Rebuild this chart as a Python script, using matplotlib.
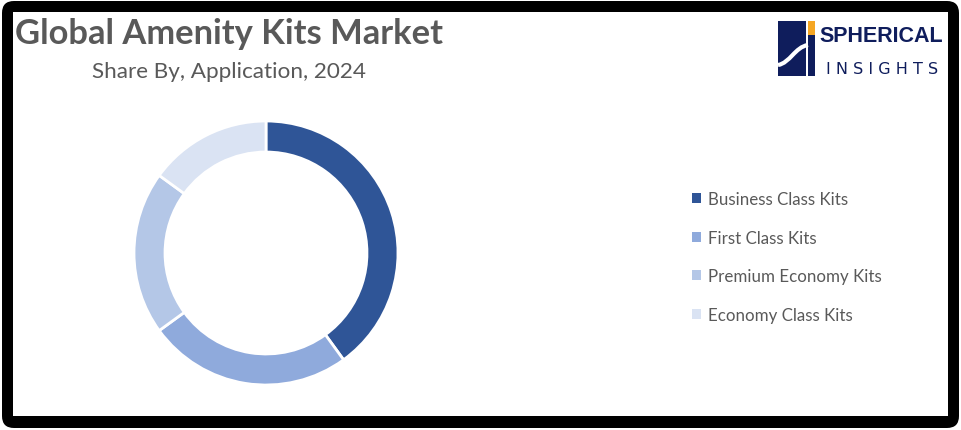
"""Global Amenity Kits Market donut chart, share by application."""

import matplotlib

matplotlib.use("Agg")

import matplotlib.pyplot as plt
from matplotlib.patches import FancyBboxPatch, Rectangle, PathPatch
from matplotlib.path import Path

W, H = 961, 431

categories = [
    "Business Class Kits",
    "First Class Kits",
    "Premium Economy Kits",
    "Economy Class Kits",
]
shares = [40, 25, 20, 15]
colors = ["#2F5597", "#8FAADC", "#B4C7E7", "#DAE3F3"]

TEXT_GREY = "#595959"
NAVY = "#0F1D5C"
ORANGE = "#F5A623"

fig = plt.figure(figsize=(W / 100, H / 100), dpi=100)

# background axes in pixel coordinates (y down)
bg = fig.add_axes([0, 0, 1, 1])
bg.set_xlim(0, W)
bg.set_ylim(H, 0)
bg.axis("off")

bg.add_patch(FancyBboxPatch((2, 2), W - 4, H - 4,
                            boxstyle="round,pad=0,rounding_size=12",
                            facecolor="black", edgecolor="none"))
bg.add_patch(Rectangle((13, 13), 935, 404, facecolor="white", edgecolor="none"))

# titles
bg.text(15, 34, "Global Amenity Kits Market", fontsize=24.8, fontweight="bold",
        color=TEXT_GREY, family="Lato", va="center", ha="left")
bg.text(229, 72, "Share By, Application, 2024", fontsize=16.2,
        color=TEXT_GREY, family="Lato", va="center", ha="center")

# logo
bg.add_patch(Rectangle((778, 22), 28, 55, facecolor=NAVY, edgecolor="none"))
bg.add_patch(Rectangle((808, 22), 7, 14, facecolor=ORANGE, edgecolor="none"))
bg.add_patch(Rectangle((808, 36), 7, 41, facecolor=NAVY, edgecolor="none"))
curve = Path([(778, 66), (790, 64), (795, 48), (808, 46)],
             [Path.MOVETO, Path.CURVE4, Path.CURVE4, Path.CURVE4])
bg.add_patch(PathPatch(curve, facecolor="none", edgecolor="white", lw=3))
bg.text(881, 37, "SPHERICAL", fontsize=15.5, fontweight="bold", color=NAVY,
        family="Liberation Sans", va="center", ha="center")
bg.text(882, 69, "I N S I G H T S", fontsize=11.5, color=NAVY,
        family="DejaVu Sans", va="center", ha="center")

# donut
cx, cy, r = 266, 254, 132
half = 140
ax = fig.add_axes([(cx - half) / W, (H - cy - half) / H, 2 * half / W, 2 * half / H])
wedges, _ = ax.pie(
    shares,
    colors=colors,
    startangle=90,
    counterclock=False,
    radius=1,
    wedgeprops=dict(width=0.235, edgecolor="white", linewidth=2),
)
ax.set_xlim(-half / r, half / r)
ax.set_ylim(-half / r, half / r)
ax.set_aspect("equal")
ax.axis("off")

leg = fig.legend(
    wedges,
    categories,
    loc="upper left",
    bbox_to_anchor=(677 / W, 1 - 177 / H),
    frameon=False,
    handlelength=0.5,
    handleheight=0.5,
    handletextpad=0.42,
    labelspacing=1.33,
    prop={"family": "Lato", "size": 12.2},
)
for t in leg.get_texts():
    t.set_color(TEXT_GREY)
for h in leg.legend_handles:
    h.set_edgecolor("none")

fig.savefig("out.png", dpi=100)
